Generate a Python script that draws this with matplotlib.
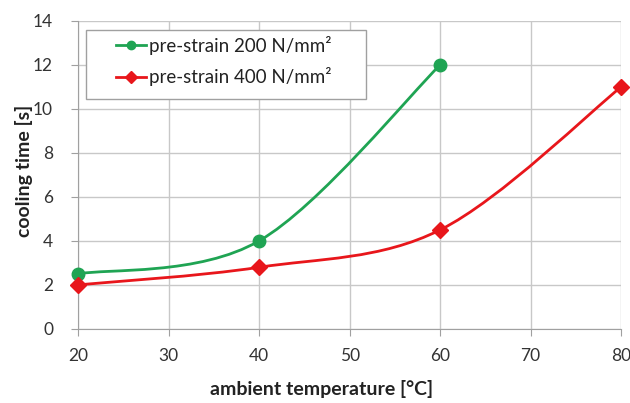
import numpy as np
import matplotlib
matplotlib.use("Agg")
import matplotlib.pyplot as plt
from matplotlib.path import Path
from matplotlib.patches import PathPatch, Rectangle
from matplotlib.lines import Line2D

plt.rcParams['font.family'] = ['Lato', 'DejaVu Sans']

temp_200 = [20, 40, 60]
time_200 = [2.5, 4, 12]
temp_400 = [20, 40, 60, 80]
time_400 = [2, 2.8, 4.5, 11]

green = '#1fa453'
red = '#e8161b'


def smooth_path(x, y):
    # Excel-like smoothed line: cubic bezier with catmull-rom control points
    pts = np.column_stack([x, y]).astype(float)
    n = len(pts)
    verts = [pts[0]]
    codes = [Path.MOVETO]
    for i in range(n - 1):
        p0 = pts[max(i - 1, 0)]
        p1 = pts[i]
        p2 = pts[i + 1]
        p3 = pts[min(i + 2, n - 1)]
        verts += [p1 + (p2 - p0) / 6, p2 - (p3 - p1) / 6, p2]
        codes += [Path.CURVE4] * 3
    return Path(verts, codes)


fig = plt.figure(figsize=(6.3, 4.03), dpi=100)
ax = fig.add_axes([0.124, 0.184, 0.862, 0.764])

for xs, ys, col, mk, ms in [(temp_200, time_200, green, 'o', 9),
                            (temp_400, time_400, red, 'D', 8.5)]:
    ax.add_patch(PathPatch(smooth_path(xs, ys), fill=False, edgecolor=col,
                           lw=2, zorder=3, clip_on=False))
    ax.plot(xs, ys, ls='none', marker=mk, ms=ms, color=col, zorder=4,
            clip_on=False)

ax.set_xlim(20, 80)
ax.set_ylim(0, 14)
ax.set_xticks(np.arange(20, 81, 10))
ax.set_yticks(np.arange(0, 15, 2))
ax.grid(True, color='#c8c8c8', lw=1)
ax.set_axisbelow(True)
for s in ['top', 'right']:
    ax.spines[s].set_visible(False)
for s in ['left', 'bottom']:
    ax.spines[s].set_color('#a0a0a0')
ax.tick_params(colors='#a0a0a0', labelcolor='#333333', labelsize=12.5,
               length=5, direction='out')
ax.tick_params(axis='x', pad=9)
ax.tick_params(axis='y', pad=13)

ax.set_xlabel('ambient temperature [°C]', fontsize=14, fontweight='bold',
              color='#222222')
ax.xaxis.set_label_coords(0.449, -0.165)
ax.set_ylabel('cooling time [s]', fontsize=14, fontweight='bold',
              color='#222222')
ax.yaxis.set_label_coords(-0.083, 0.513)

# legend frame like the excel box
ax.add_patch(Rectangle((0.0147, 0.747), 0.515, 0.224, transform=ax.transAxes,
                       facecolor='white', edgecolor='#a0a0a0', lw=1,
                       zorder=5, clip_on=False))
handles = [Line2D([], [], color=green, lw=2, marker='o', ms=6),
           Line2D([], [], color=red, lw=2, marker='D', ms=6)]
leg = ax.legend(handles, ['pre-strain 200 N/mm²', 'pre-strain 400 N/mm²'],
                loc='upper left', bbox_to_anchor=(0.07, 0.952), fontsize=13.5,
                frameon=False, handlelength=1.6, handletextpad=0.15,
                borderpad=0, labelspacing=0.66, borderaxespad=0)
leg.set_zorder(6)
for t in leg.get_texts():
    t.set_color('#222222')

fig.savefig('out.png', dpi=100)
